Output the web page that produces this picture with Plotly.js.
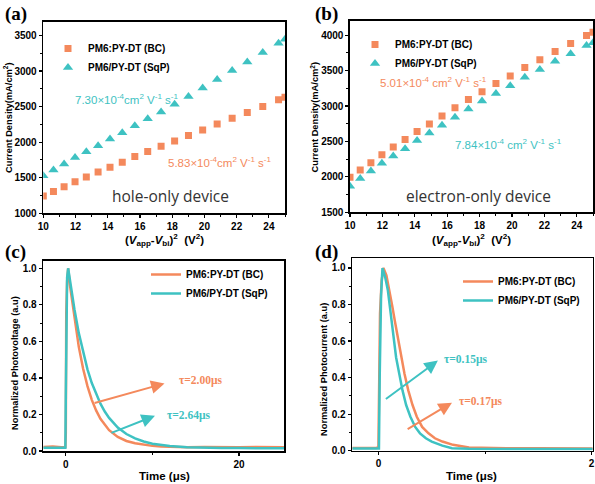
<!DOCTYPE html>
<html>
<head>
<meta charset="utf-8">
<script src="https://cdn.plot.ly/plotly-3.0.1.min.js"></script>
<style>html,body{margin:0;padding:0;background:#fff;}#chart{width:595px;height:484px;}</style>
</head>
<body>
<div id="chart"></div>
<script>
// ---- data ----
const biasSq = [10, 10.63, 11.29, 11.97, 12.67, 13.4, 14.14, 14.9, 15.68, 16.48, 17.31, 18.15, 19.01, 19.89, 20.79, 21.72, 22.66, 23.62, 24.6, 25.0];
const holeBC  = [1245, 1305, 1372, 1443, 1511, 1582, 1648, 1718, 1797, 1868, 1944, 2018, 2093, 2173, 2254, 2337, 2417, 2501, 2596, 2632];
const holeSqP = [1528, 1608, 1692, 1786, 1866, 1950, 2045, 2134, 2232, 2331, 2425, 2533, 2641, 2763, 2880, 3007, 3129, 3261, 3392, 3448];
const elecBC  = [1995, 2098, 2201, 2313, 2421, 2528, 2640, 2748, 2860, 2977, 3093, 3201, 3318, 3425, 3542, 3654, 3771, 3883, 3995, 4040];
const elecSqP = [1869, 1977, 2084, 2192, 2294, 2397, 2514, 2621, 2729, 2841, 2958, 3070, 3178, 3285, 3407, 3514, 3631, 3738, 3855, 3893];

const tpvTime = [-2.6, -1.5, -0.5, -0.05, 0.0, 0.05, 0.15, 0.27, 0.5, 1.0, 1.5, 2.0, 2.5, 3.0, 3.5, 4.0, 4.5, 5.0, 6.0, 7.0, 8.0, 9.0, 10.0, 11.0, 12.0, 14.0, 16.0, 18.0, 20.0, 22.0, 24.0, 25.2];
const tpvBC   = [0.022, 0.024, 0.020, 0.022, 0.10, 0.75, 0.93, 1.0, 0.90, 0.72, 0.57, 0.45, 0.355, 0.28, 0.222, 0.176, 0.142, 0.114, 0.077, 0.055, 0.042, 0.033, 0.028, 0.025, 0.023, 0.021, 0.022, 0.020, 0.021, 0.022, 0.020, 0.021];
const tpvSqP  = [0.018, 0.017, 0.018, 0.018, 0.30, 0.80, 0.95, 1.0, 0.925, 0.775, 0.645, 0.537, 0.447, 0.372, 0.31, 0.259, 0.216, 0.181, 0.128, 0.093, 0.069, 0.052, 0.040, 0.032, 0.027, 0.020, 0.017, 0.016, 0.016, 0.016, 0.015, 0.015];

const tpcTimeBC = [-0.245, -0.1, -0.02, 0.0, 0.005, 0.015, 0.03, 0.047, 0.075, 0.103, 0.13, 0.157, 0.185, 0.213, 0.245, 0.28, 0.32, 0.36, 0.41, 0.47, 0.53, 0.6, 0.7, 0.85, 1.0, 1.2, 1.5, 1.8, 2.01];
const tpcBC     = [0.015, 0.017, 0.015, 0.02, 0.35, 0.75, 0.93, 1.0, 0.96, 0.88, 0.79, 0.70, 0.605, 0.51, 0.42, 0.33, 0.25, 0.186, 0.13, 0.095, 0.068, 0.05, 0.032, 0.018, 0.015, 0.014, 0.013, 0.012, 0.012];
const tpcTimeSqP = [-0.245, -0.1, -0.02, 0.005, 0.012, 0.025, 0.038, 0.063, 0.088, 0.107, 0.125, 0.146, 0.166, 0.196, 0.226, 0.26, 0.3, 0.345, 0.39, 0.445, 0.5, 0.6, 0.69, 0.85, 1.0, 1.2, 1.5, 1.8, 2.01];
const tpcSqP     = [0.012, 0.010, 0.012, 0.012, 0.40, 0.85, 1.0, 0.95, 0.88, 0.79, 0.70, 0.605, 0.51, 0.42, 0.33, 0.25, 0.186, 0.13, 0.095, 0.068, 0.05, 0.028, 0.013, 0.010, 0.010, 0.009, 0.009, 0.009, 0.009];

const nameBC = 'PM6:PY-DT (BC)';
const nameSqP = 'PM6/PY-DT (SqP)';
const ORANGE = '#F4895C';
const CYAN = '#3EC2C2';

// ---- traces ----
const traces = [
  {x: biasSq, y: holeBC, type: 'scatter', mode: 'markers', name: nameBC, xaxis: 'x', yaxis: 'y', legend: 'legend',
   marker: {symbol: 'square', size: 7, color: ORANGE}},
  {x: biasSq, y: holeSqP, type: 'scatter', mode: 'markers', name: nameSqP, xaxis: 'x', yaxis: 'y', legend: 'legend',
   marker: {symbol: 'triangle-up', size: 9, color: CYAN}},
  {x: biasSq, y: elecBC, type: 'scatter', mode: 'markers', name: nameBC, xaxis: 'x2', yaxis: 'y2', legend: 'legend2',
   marker: {symbol: 'square', size: 7, color: ORANGE}},
  {x: biasSq, y: elecSqP, type: 'scatter', mode: 'markers', name: nameSqP, xaxis: 'x2', yaxis: 'y2', legend: 'legend2',
   marker: {symbol: 'triangle-up', size: 9, color: CYAN}},
  {x: tpvTime, y: tpvBC, type: 'scatter', mode: 'lines', name: nameBC, xaxis: 'x3', yaxis: 'y3', legend: 'legend3',
   line: {color: ORANGE, width: 2.5}},
  {x: tpvTime, y: tpvSqP, type: 'scatter', mode: 'lines', name: nameSqP, xaxis: 'x3', yaxis: 'y3', legend: 'legend3',
   line: {color: CYAN, width: 2.5}},
  {x: tpcTimeBC, y: tpcBC, type: 'scatter', mode: 'lines', name: nameBC, xaxis: 'x4', yaxis: 'y4', legend: 'legend4',
   line: {color: ORANGE, width: 2.5}},
  {x: tpcTimeSqP, y: tpcSqP, type: 'scatter', mode: 'lines', name: nameSqP, xaxis: 'x4', yaxis: 'y4', legend: 'legend4',
   line: {color: CYAN, width: 2.5}}
];

// ---- layout helpers ----
const W = 595, H = 484;
const px = v => v / W;
const py = v => 1 - v / H;
const tickFont = {family: 'Liberation Sans, Arial, sans-serif', size: 10, color: '#000', weight: 'bold'};
function axis(domain, range, dtick, minorDtick, anchor, extra) {
  return Object.assign({
    domain: domain, range: range, anchor: anchor, dtick: dtick, tick0: 0,
    showgrid: false, zeroline: false, showline: true, mirror: true,
    linecolor: '#000', linewidth: 1.6, ticks: 'outside', ticklen: 3, tickwidth: 1.2, tickcolor: '#000',
    tickfont: tickFont, minor: {dtick: minorDtick, ticks: 'outside', ticklen: 2, tickwidth: 1, tickcolor: '#000', showgrid: false}
  }, extra || {});
}
const legendBase = {bgcolor: 'rgba(0,0,0,0)', borderwidth: 0, xanchor: 'left', yanchor: 'top',
  font: {family: 'Liberation Sans, Arial, sans-serif', size: 10, color: '#000', weight: 'bold'}, tracegroupgap: 0};

const yTitleFont = {family: 'Liberation Sans, Arial, sans-serif', size: 9.3, color: '#000', weight: 'bold'};
const xTitleFont = {family: 'Liberation Sans, Arial, sans-serif', size: 11.5, color: '#000', weight: 'bold'};
const labelFont = {family: 'Liberation Serif, Times New Roman, serif', size: 19, color: '#000', weight: 'bold'};
const mobFont = c => ({family: 'Liberation Sans, Arial, sans-serif', size: 11.5, color: c});
const devFont = {family: 'Open Sans, sans-serif', size: 15.5, color: '#333'};
const tauFont = c => ({family: 'Liberation Serif, Times New Roman, serif', size: 11.5, color: c, weight: 'bold'});

function paperText(text, x, y, font, opts) {
  return Object.assign({text: text, x: px(x), y: py(y), xref: 'paper', yref: 'paper', showarrow: false,
    font: font, xanchor: 'center', yanchor: 'middle'}, opts || {});
}
function arrow(xr, yr, tail, tip, color) {
  return {xref: xr, yref: yr, axref: xr, ayref: yr, x: tip[0], y: tip[1], ax: tail[0], ay: tail[1],
    text: '', showarrow: true, arrowhead: 2, arrowsize: 1.35, arrowwidth: 2, arrowcolor: color};
}
function dataText(xr, yr, text, x, y, color) {
  return {xref: xr, yref: yr, x: x, y: y, text: text, showarrow: false, font: tauFont(color), xanchor: 'left', yanchor: 'middle'};
}

const xTitleBias = '(<i>V</i><sub>app</sub>-<i>V</i><sub>bi</sub>)<sup>2</sup>  (V<sup>2</sup>)';

const layout = {
  width: W, height: H, margin: {l: 0, r: 0, t: 0, b: 0},
  paper_bgcolor: '#fff', plot_bgcolor: '#fff', showlegend: true,
  xaxis:  axis([px(43.3), px(285)], [10, 25], 2, 1, 'y'),
  yaxis:  axis([py(213.3), py(22)], [1000, 3690], 500, 250, 'x'),
  xaxis2: axis([px(350), px(593)], [10, 25], 2, 1, 'y2'),
  yaxis2: axis([py(212.3), py(21)], [1500, 4200], 500, 250, 'x2'),
  xaxis3: axis([px(43.3), px(284)], [-2.6, 25.2], 20, 10, 'y3'),
  yaxis3: axis([py(451), py(261)], [0, 1.04], 0.2, 0.1, 'x3', {tickformat: '.1f'}),
  xaxis4: axis([px(352.3), px(592.7)], [-0.245, 2.01], 2, 1, 'y4'),
  yaxis4: axis([py(450.7), py(258.3)], [0, 1.053], 0.2, 0.1, 'x4', {tickformat: '.1f'}),
  legend:  Object.assign({}, legendBase, {x: px(48), y: py(34)}),
  legend2: Object.assign({}, legendBase, {x: px(355), y: py(30)}),
  legend3: Object.assign({}, legendBase, {x: px(146), y: py(260)}),
  legend4: Object.assign({}, legendBase, {x: px(458), y: py(267)}),
  annotations: [
    paperText('(a)', 3, 1, labelFont, {xanchor: 'left', yanchor: 'top'}),
    paperText('(b)', 313, 1, labelFont, {xanchor: 'left', yanchor: 'top'}),
    paperText('(c)', 3, 239, labelFont, {xanchor: 'left', yanchor: 'top'}),
    paperText('(d)', 313, 239, labelFont, {xanchor: 'left', yanchor: 'top'}),

    paperText('Current Density(mA/cm<sup>2</sup>)', 7.5, 117.5, yTitleFont, {textangle: -90}),
    paperText('Current Density(mA/cm<sup>2</sup>)', 314, 117.5, yTitleFont, {textangle: -90}),
    paperText('Normalized Photovoltage (a.u)', 15, 363, yTitleFont, {textangle: -90}),
    paperText('Normalized Photocurrent (a.u)', 324, 370, yTitleFont, {textangle: -90}),

    paperText(xTitleBias, 164, 240, xTitleFont),
    paperText(xTitleBias, 471.5, 240, xTitleFont),
    paperText('Time (μs)', 164, 476, xTitleFont),
    paperText('Time (μs)', 471.5, 476, xTitleFont),

    paperText('7.30×10<sup>-4</sup>cm<sup>2</sup> V<sup>-1</sup> s<sup>-1</sup>', 72.7, 99, mobFont(CYAN), {xanchor: 'left'}),
    paperText('5.83×10<sup>-4</sup>cm<sup>2</sup> V<sup>-1</sup> s<sup>-1</sup>', 165.7, 162, mobFont(ORANGE), {xanchor: 'left'}),
    paperText('hole-only device', 170, 196, devFont),
    paperText('5.01×10<sup>-4</sup> cm<sup>2</sup> V<sup>-1</sup> s<sup>-1</sup>', 377.7, 82, mobFont(ORANGE), {xanchor: 'left'}),
    paperText('7.84×10<sup>-4</sup> cm<sup>2</sup> V<sup>-1</sup> s<sup>-1</sup>', 453, 144, mobFont(CYAN), {xanchor: 'left'}),
    paperText('electron-only device', 478, 196, devFont),

    arrow('x3', 'y3', [3.15, 0.26], [11.4, 0.37], ORANGE),
    dataText('x3', 'y3', 'τ=2.00μs', 12.8, 0.385, ORANGE),
    arrow('x3', 'y3', [5.1, 0.096], [10.3, 0.193], CYAN),
    dataText('x3', 'y3', 'τ=2.64μs', 11.5, 0.193, CYAN),

    arrow('x4', 'y4', [0.056, 0.277], [0.558, 0.493], CYAN),
    dataText('x4', 'y4', 'τ=0.15μs', 0.596, 0.5, CYAN),
    arrow('x4', 'y4', [0.26, 0.113], [0.69, 0.263], ORANGE),
    dataText('x4', 'y4', 'τ=0.17μs', 0.74, 0.27, ORANGE)
  ]
};

Plotly.newPlot('chart', traces, layout, {displayModeBar: false, staticPlot: true});
</script>
</body>
</html>
